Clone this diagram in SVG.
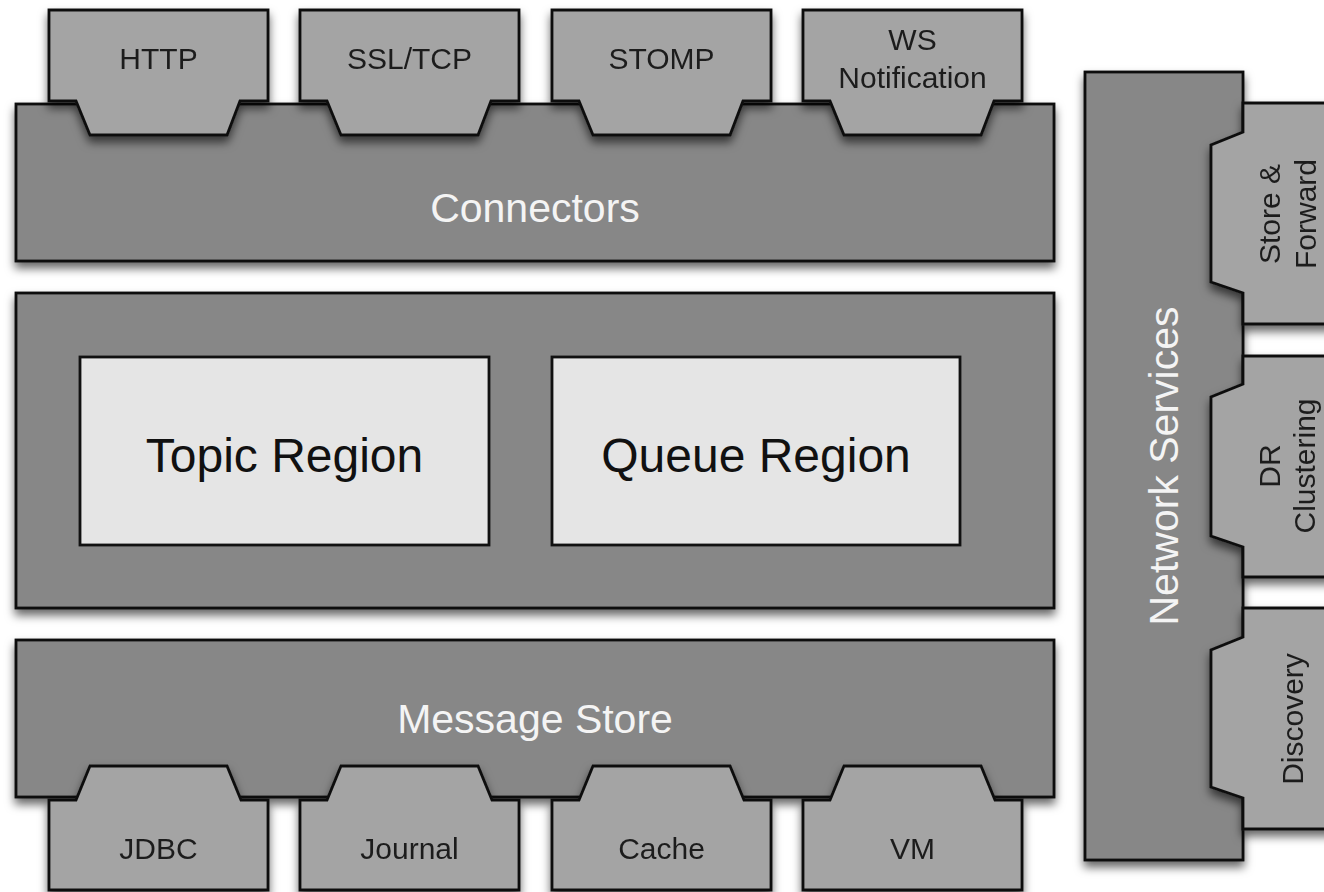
<svg xmlns="http://www.w3.org/2000/svg" width="1324" height="892" viewBox="0 0 1324 892">
  <defs>
    <filter id="sh" x="-10%" y="-10%" width="120%" height="130%">
      <feDropShadow dx="0" dy="6" stdDeviation="5" flood-color="#000" flood-opacity="0.6"/>
    </filter>
    <style>
      .bar { fill: #878787; stroke: #111; stroke-width: 2.8; stroke-linejoin: miter; }
      .tab { fill: #a4a4a4; stroke: #111; stroke-width: 2.8; stroke-linejoin: miter; }
      .region { fill: #e5e5e5; stroke: #111; stroke-width: 2.8; }
      .lbl { font-family: "Liberation Sans", Arial, Helvetica, sans-serif; text-anchor: middle; }
      .big { fill: #f4f4f4; font-size: 41px; }
      .reg { fill: #111; font-size: 48px; }
      .small { fill: #1e1e1e; font-size: 30px; }
    </style>
  </defs>
  <rect width="1324" height="892" fill="#ffffff"/>

  <!-- Connectors bar -->
  <g id="connectors" filter="url(#sh)">
    <rect class="bar" x="16" y="104" width="1038" height="157"/>
  </g>

  <!-- Top tabs -->
  <g id="tab-http" filter="url(#sh)">
    <polygon class="tab" points="49,10 268,10 268,101 240,101 227,135 90,135 76,101 49,101"/>
    <text class="lbl small" x="158.5" y="69">HTTP</text>
  </g>
  <g id="tab-ssltcp" filter="url(#sh)">
    <polygon class="tab" points="300,10 519,10 519,101 491,101 478,135 341,135 327,101 300,101"/>
    <text class="lbl small" x="409.5" y="69">SSL/TCP</text>
  </g>
  <g id="tab-stomp" filter="url(#sh)">
    <polygon class="tab" points="552,10 771,10 771,101 743,101 730,135 593,135 579,101 552,101"/>
    <text class="lbl small" x="661.5" y="69">STOMP</text>
  </g>
  <g id="tab-ws" filter="url(#sh)">
    <polygon class="tab" points="803,10 1022,10 1022,101 994,101 981,135 844,135 830,101 803,101"/>
    <text class="lbl small" x="912.5" y="50">WS</text>
    <text class="lbl small" x="912.5" y="88">Notification</text>
  </g>
  <g id="connectors-label">
    <text class="lbl big" x="535" y="222">Connectors</text>
  </g>

  <!-- Middle broker region -->
  <g id="broker" filter="url(#sh)">
    <rect class="bar" x="16" y="293" width="1038" height="315"/>
  </g>
  <g id="topic-region">
    <rect class="region" x="80" y="357" width="409" height="188"/>
    <text class="lbl reg" x="284.5" y="472">Topic Region</text>
  </g>
  <g id="queue-region">
    <rect class="region" x="552" y="357" width="408" height="188"/>
    <text class="lbl reg" x="756" y="472">Queue Region</text>
  </g>

  <!-- Message Store bar -->
  <g id="message-store" filter="url(#sh)">
    <rect class="bar" x="16" y="640" width="1038" height="157"/>
  </g>

  <!-- Bottom tabs -->
  <g id="tab-jdbc" filter="url(#sh)">
    <polygon class="tab" points="49,800 76,800 90,766 227,766 241,800 268,800 268,890 49,890"/>
    <text class="lbl small" x="158.5" y="859">JDBC</text>
  </g>
  <g id="tab-journal" filter="url(#sh)">
    <polygon class="tab" points="300,800 327,800 341,766 478,766 492,800 519,800 519,890 300,890"/>
    <text class="lbl small" x="409.5" y="859">Journal</text>
  </g>
  <g id="tab-cache" filter="url(#sh)">
    <polygon class="tab" points="552,800 579,800 593,766 730,766 744,800 771,800 771,890 552,890"/>
    <text class="lbl small" x="661.5" y="859">Cache</text>
  </g>
  <g id="tab-vm" filter="url(#sh)">
    <polygon class="tab" points="803,800 830,800 844,766 981,766 995,800 1022,800 1022,890 803,890"/>
    <text class="lbl small" x="912.5" y="859">VM</text>
  </g>
  <g id="message-store-label">
    <text class="lbl big" x="535" y="733">Message Store</text>
  </g>

  <!-- Network Services -->
  <g id="network-services" filter="url(#sh)">
    <rect class="bar" x="1085" y="72" width="158" height="788"/>
  </g>
  <g id="tab-store-forward" filter="url(#sh)">
    <polygon class="tab" points="1243,103 1340,103 1340,324 1243,324 1243,293 1211,282 1211,145 1243,132"/>
    <g transform="translate(1280,214) rotate(-90)">
      <text class="lbl small" x="0" y="0">Store &amp;</text>
      <text class="lbl small" x="0" y="36">Forward</text>
    </g>
  </g>
  <g id="tab-dr-clustering" filter="url(#sh)">
    <polygon class="tab" points="1243,356 1340,356 1340,577 1243,577 1243,547 1211,536 1211,397 1243,384"/>
    <g transform="translate(1280,466) rotate(-90)">
      <text class="lbl small" x="0" y="0">DR</text>
      <text class="lbl small" x="0" y="35">Clustering</text>
    </g>
  </g>
  <g id="tab-discovery" filter="url(#sh)">
    <polygon class="tab" points="1243,608 1340,608 1340,829 1243,829 1243,798 1211,787 1211,650 1243,637"/>
    <text class="lbl small" transform="translate(1303,719) rotate(-90)" x="0" y="0">Discovery</text>
  </g>
  <g id="network-services-label">
    <text class="lbl big" transform="translate(1178,466) rotate(-90)" x="0" y="0">Network Services</text>
  </g>

  <g id="connectors-lines"></g>
</svg>
